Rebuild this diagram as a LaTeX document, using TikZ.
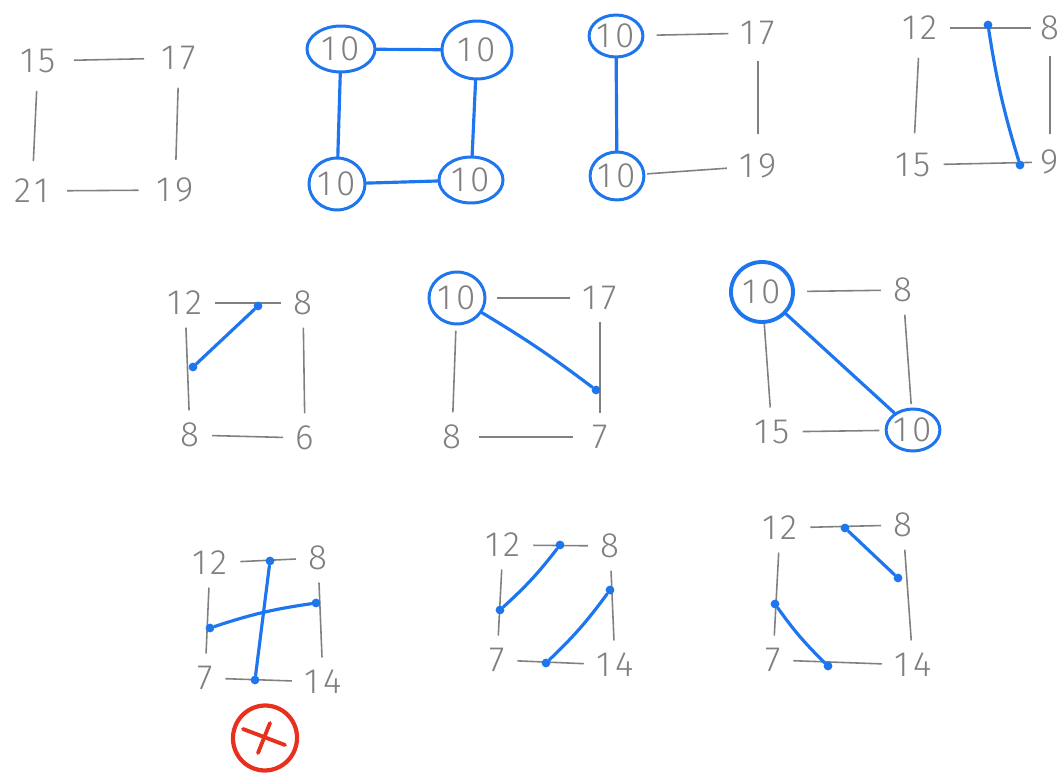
\documentclass[tikz,border=0pt]{standalone}
\usepackage{fontspec}
\usepackage{tikz}
\usetikzlibrary{shapes.geometric, calc}
\newfontfamily\handfont{Fira Sans Light}[LetterSpace=12]
\definecolor{pencil}{RGB}{128,128,128}
\definecolor{ink}{RGB}{30,118,238}
\definecolor{redink}{RGB}{232,48,30}
\tikzset{
    num/.style={font=\handfont\fontsize{20}{20}\selectfont, text=pencil, inner sep=7pt},
    ring/.style={num, ellipse, draw=ink, line width=1.7pt, inner sep=0pt},
    edge/.style={draw=pencil, line width=0.9pt},
    pen/.style={draw=ink, line width=1.8pt, line cap=round},
    dot/.style={circle, fill=ink, inner sep=0pt, minimum size=5pt},
    redpen/.style={draw=redink, line width=2.2pt, line cap=round},
}

\begin{document}
\begin{tikzpicture}[x=0.02cm, y=-0.02cm]
\useasboundingbox (0,0) rectangle (1059,776);
\fill[white] (0,0) rectangle (1059,776);

% Row 1 - square 1 (plain)
\node[num, inner sep=10pt] (s1tl) at (38,61) {15};
\node[num, inner sep=10pt] (s1tr) at (179,58) {17};
\node[num, inner sep=10pt] (s1bl) at (32,191) {21};
\node[num, inner sep=10pt] (s1br) at (175,190) {19};
\draw[edge] (s1tl) -- (s1tr);
\draw[edge] (s1tl) -- (s1bl);
\draw[edge] (s1tr) -- (s1br);
\draw[edge] (s1bl) -- (s1br);

% Row 1 - square 2 (all circled)
\node[ring, minimum width=1.36cm, minimum height=0.92cm] (s2tl) at (341,49) {10};
\node[ring, minimum width=1.4cm, minimum height=1.16cm] (s2tr) at (477,50) {10};
\node[ring, minimum width=1.12cm, minimum height=1.04cm] (s2bl) at (337,184) {10};
\node[ring, minimum width=1.28cm, minimum height=0.92cm] (s2br) at (471,180) {10};
\draw[pen] (s2tl) -- (s2tr);
\draw[pen] (s2tl) -- (s2bl);
\draw[pen] (s2tr) -- (s2br);
\draw[pen] (s2bl) -- (s2br);

% Row 1 - square 3 (left side)
\node[ring, minimum width=1.04cm, minimum height=0.84cm] (s3tl) at (616,36) {10};
\node[num] (s3tr) at (758,33) {17};
\node[ring, minimum width=1.0cm, minimum height=0.96cm] (s3bl) at (617,176) {10};
\node[num] (s3br) at (758,166) {19};
\draw[edge, shorten <=7pt] (s3tl) -- (s3tr);
\draw[edge, shorten <=2pt, shorten >=4pt] (s3tr) -- (s3br);
\draw[edge, shorten <=1pt] (s3bl) -- (s3br);
\draw[pen] (s3tl) -- (s3bl);

% Row 1 - square 4 (at the edge)
\node[num] (s4tl) at (920,28) {12};
\node[num, inner sep=5pt] (s4tr) at (1050,28) {8};
\node[num] (s4bl) at (913,165) {15};
\node[num, inner sep=5pt] (s4br) at (1050,162) {9};
\draw[edge] (s4tl) -- (s4tr);
\draw[edge, shorten <=3pt, shorten >=4pt] (s4tl) -- (s4bl);
\draw[edge, shorten <=4pt, shorten >=4pt] (s4tr) -- (s4br);
\draw[edge] (s4bl) -- (s4br);
\node[dot] (s4a) at (988,25) {};
\node[dot] (s4b) at (1020,165) {};
\draw[pen] (s4a) to[bend right=4] (s4b);

% Row 2 - square 5
\node[num] (s5tl) at (185,303) {12};
\node[num] (s5tr) at (303,303) {8};
\node[num] (s5bl) at (190,435) {8};
\node[num] (s5br) at (305,438) {6};
\draw[edge] (s5tl) -- (s5tr);
\draw[edge] (s5tl) -- (s5bl);
\draw[edge] (s5tr) -- (s5br);
\draw[edge] (s5bl) -- (s5br);
\node[dot] (s5a) at (258,306) {};
\node[dot] (s5b) at (193,367) {};
\draw[pen] (s5a) -- (s5b);

% Row 2 - square 6
\node[ring, minimum width=1.12cm, minimum height=1.04cm] (s6tl) at (457,298) {10};
\node[num] (s6tr) at (600,298) {17};
\node[num] (s6bl) at (452,437) {8};
\node[num] (s6br) at (600,437) {7};
\draw[edge, shorten <=6pt] (s6tl) -- (s6tr);
\draw[edge, shorten <=3pt] (s6tl) -- (s6bl);
\draw[edge] (s6tr) -- (s6br);
\draw[edge, shorten <=3pt, shorten >=4pt] (s6bl) -- (s6br);
\node[dot] (s6a) at (596,390) {};
\draw[pen] (s6tl) to[bend left=3] (s6a);

% Row 2 - square 7
\node[ring, line width=2.2pt, minimum width=1.24cm, minimum height=1.2cm] (s7tl) at (762,292) {10};
\node[num] (s7tr) at (903,290) {8};
\node[num] (s7bl) at (772,432) {15};
\node[ring, minimum width=0.96cm, minimum height=0.84cm] (s7br) at (913,430) {10};
\draw[edge, shorten <=7pt] (s7tl) -- (s7tr);
\draw[edge] (s7tl) -- (s7bl);
\draw[edge, shorten >=2pt] (s7tr) -- (s7br);
\draw[edge, shorten >=3pt] (s7bl) -- (s7br);
\draw[pen] (s7tl) -- (s7br);

% Row 3 - square 8 (crossing, rejected)
\node[num] (s8tl) at (210,563) {12};
\node[num] (s8tr) at (318,558) {8};
\node[num] (s8bl) at (205,678) {7};
\node[num] (s8br) at (323,682) {14};
\draw[edge] (s8tl) -- (s8tr);
\draw[edge] (s8tl) -- (s8bl);
\draw[edge] (s8tr) -- (s8br);
\draw[edge] (s8bl) -- (s8br);
\node[dot] (s8t) at (270,561) {};
\node[dot] (s8b) at (255,680) {};
\node[dot] (s8l) at (210,628) {};
\node[dot] (s8r) at (316,603) {};
\draw[pen] (s8t) -- (s8b);
\draw[pen] (s8l) to[bend left=5] (s8r);
\node[ellipse, draw=redink, line width=2.4pt, minimum width=1.28cm, minimum height=1.3cm, rotate=-15] (s8no) at (265,738) {};
\draw[redpen] ($(s8no.center)+(-22,-9)$) -- ($(s8no.center)+(20,7)$);
\draw[redpen] ($(s8no.center)+(5,-15)$) -- ($(s8no.center)+(-7,15)$);

% Row 3 - square 9
\node[num] (s9tl) at (503,545) {12};
\node[num] (s9tr) at (610,546) {8};
\node[num] (s9bl) at (497,660) {7};
\node[num] (s9br) at (615,665) {14};
\draw[edge] (s9tl) -- (s9tr);
\draw[edge] (s9tl) -- (s9bl);
\draw[edge] (s9tr) -- (s9br);
\draw[edge] (s9bl) -- (s9br);
\node[dot] (s9l) at (500,610) {};
\node[dot] (s9t) at (560,545) {};
\node[dot] (s9b) at (546,663) {};
\node[dot] (s9r) at (610,590) {};
\draw[pen] (s9l) to[bend right=5] (s9t);
\draw[pen] (s9b) to[bend right=5] (s9r);

% Row 3 - square 10
\node[num] (s10tl) at (780,528) {12};
\node[num] (s10tr) at (903,525) {8};
\node[num] (s10bl) at (773,660) {7};
\node[num] (s10br) at (913,665) {14};
\draw[edge] (s10tl) -- (s10tr);
\draw[edge] (s10tl) -- (s10bl);
\draw[edge] (s10tr) -- (s10br);
\draw[edge] (s10bl) -- (s10br);
\node[dot] (s10t) at (845,528) {};
\node[dot] (s10r) at (898,578) {};
\node[dot] (s10l) at (775,604) {};
\node[dot] (s10b) at (828,666) {};
\draw[pen] (s10t) -- (s10r);
\draw[pen] (s10l) to[bend right=5] (s10b);
\end{tikzpicture}
\end{document}
